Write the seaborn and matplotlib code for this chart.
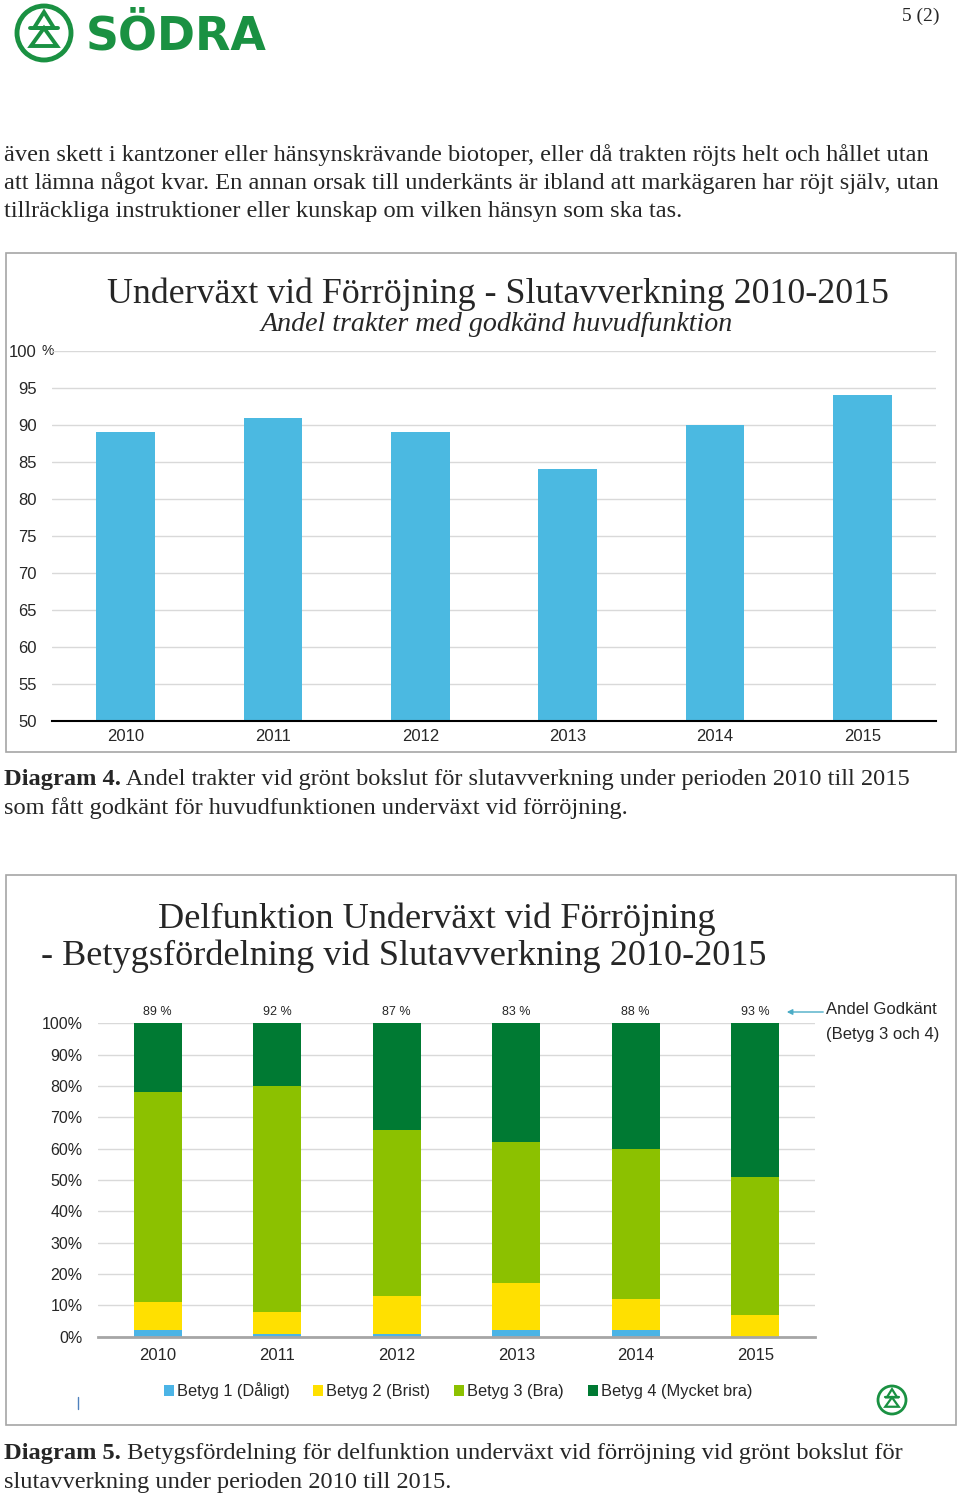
import numpy as np
import seaborn as sns
import matplotlib
matplotlib.use('Agg')
from matplotlib import pyplot as plt
from matplotlib.patches import Rectangle, Circle, Polygon

# data, read from the page
years = ['2010', '2011', '2012', '2013', '2014', '2015']
godkand_andel = [89, 91, 89, 84, 90, 94]          # diagram 4
betyg_1 = [2, 1, 1, 2, 2, 0]                      # diagram 5, Dåligt
betyg_2 = [9, 7, 12, 15, 10, 7]                   # Brist
betyg_3 = [67, 72, 53, 45, 48, 44]                # Bra
betyg_4 = [22, 20, 34, 38, 40, 49]                # Mycket bra
y_ticks_1 = [50, 55, 60, 65, 70, 75, 80, 85, 90, 95, 100]
y_ticks_2 = [0, 10, 20, 30, 40, 50, 60, 70, 80, 90, 100]
legend_labels = ['Betyg 1 (Dåligt)', 'Betyg 2 (Brist)', 'Betyg 3 (Bra)',
                 'Betyg 4 (Mycket bra)']
betyg_colors = ['#4BB4E6', '#FFE000', '#8CC100', '#007A33']

paragraph = [
    'även skett i kantzoner eller hänsynskrävande biotoper, eller då trakten röjts helt och hållet utan',
    'att lämna något kvar. En annan orsak till underkänts är ibland att markägaren har röjt själv, utan',
    'tillräckliga instruktioner eller kunskap om vilken hänsyn som ska tas.',
]

W, H = 960, 1497
GREEN = '#1A9142'
SERIF = ['Liberation Serif', 'DejaVu Serif']
BODY = 17.6


def box(l, t, r, b):
    return [l / W, 1 - b / H, (r - l) / W, (b - t) / H]


def logo(ax, cx, cy, r, lw):
    ax.add_patch(Circle((cx, cy), r, fill=False, ec=GREEN, lw=lw))
    s = r / 27.0
    ax.add_patch(Polygon([(cx, cy - 21 * s), (cx - 10 * s, cy - 5 * s), (cx + 10 * s, cy - 5 * s)],
                         closed=True, fill=False, ec=GREEN, lw=lw * 0.8))
    ax.add_patch(Polygon([(cx, cy - 5 * s), (cx - 13 * s, cy + 13 * s), (cx + 13 * s, cy + 13 * s)],
                         closed=True, fill=False, ec=GREEN, lw=lw * 0.8))
    ax.plot([cx - 14 * s, cx + 14 * s], [cy - 5 * s, cy - 5 * s], color=GREEN, lw=lw * 0.8)


sns.set_theme(style='white')
plt.rcParams['font.family'] = ['Liberation Sans', 'DejaVu Sans']

fig = plt.figure(figsize=(9.6, 14.97), dpi=100)
page = fig.add_axes([0, 0, 1, 1])
page.set_xlim(0, W)
page.set_ylim(H, 0)
page.axis('off')

# header
logo(page, 44, 33, 27, 3.5)
page.text(86, 49, 'SÖDRA', family='DejaVu Sans', weight='bold', fontsize=33,
          color=GREEN, va='baseline')
page.text(940, 21, '5 (2)', family=SERIF, fontsize=14, ha='right', va='baseline')

for i, line in enumerate(paragraph):
    page.text(4, 161 + 28 * i, line, family=SERIF, fontsize=BODY, va='baseline')

# frames around the two charts
page.add_patch(Rectangle((6, 253), 950, 499, fill=False, ec='#A6A6A6', lw=1.2))
page.add_patch(Rectangle((6, 875), 950, 550, fill=False, ec='#A6A6A6', lw=1.2))

# ---- diagram 4
page.text(498, 303, 'Underväxt vid Förröjning - Slutavverkning 2010-2015', family=SERIF,
          fontsize=25.8, ha='center', va='baseline')
page.text(497, 331, 'Andel trakter med godkänd huvudfunktion', family=SERIF,
          style='italic', fontsize=20.2, ha='center', va='baseline')

ax1 = fig.add_axes(box(52, 351, 936, 721))
ax1.set_facecolor('none')
sns.barplot(x=years, y=godkand_andel, color='#4BB9E1', saturation=1, width=0.4,
            linewidth=0, ax=ax1)
ax1.set_ylim(50, 100)
ax1.set_yticks(y_ticks_1)
ax1.set_yticklabels([str(t) for t in y_ticks_1])
ax1.yaxis.grid(True, color='#D9D9D9', lw=1)
ax1.set_axisbelow(True)
for side in ['left', 'right', 'top']:
    ax1.spines[side].set_visible(False)
ax1.spines['bottom'].set_color('black')
ax1.spines['bottom'].set_linewidth(1.5)
ax1.tick_params(axis='y', length=0, pad=11, labelsize=12)
ax1.tick_params(axis='x', length=0, pad=6, labelsize=12)
ax1.set_xlabel('')
ax1.set_ylabel('')
page.text(42, 351, '%', fontsize=10, va='center')

page.text(4, 785, 'Diagram 4.', family=SERIF, weight='bold', fontsize=BODY, va='baseline')
page.annotate(' Andel trakter vid grönt bokslut för slutavverkning under perioden 2010 till 2015',
              xy=(1, 0), xycoords=page.texts[-1], family=SERIF, fontsize=BODY,
              ha='left', va='bottom')
page.text(4, 814, 'som fått godkänt för huvudfunktionen underväxt vid förröjning.',
          family=SERIF, fontsize=BODY, va='baseline')

# ---- diagram 5
page.text(437, 928, 'Delfunktion Underväxt vid Förröjning', family=SERIF, fontsize=26.1,
          ha='center', va='baseline')
page.text(404, 965, '- Betygsfördelning vid Slutavverkning 2010-2015', family=SERIF,
          fontsize=26.1, ha='center', va='baseline')

ax2 = fig.add_axes(box(98, 1023.3, 815, 1336.7))
ax2.set_facecolor('none')
stack = np.cumsum([betyg_1, betyg_2, betyg_3, betyg_4], axis=0)
for level in reversed(range(4)):
    sns.barplot(x=years, y=stack[level], color=betyg_colors[level], saturation=1,
                width=0.4, linewidth=0, label=legend_labels[level], ax=ax2)
if ax2.legend_ is not None:
    ax2.legend_.remove()
ax2.set_ylim(0, 100)
ax2.set_yticks(y_ticks_2)
ax2.set_yticklabels([f'{t}%' for t in y_ticks_2])
ax2.yaxis.grid(True, color='#D9D9D9', lw=1)
ax2.set_axisbelow(True)
for side in ['left', 'right', 'top']:
    ax2.spines[side].set_visible(False)
ax2.spines['bottom'].set_color('#A6A6A6')
ax2.spines['bottom'].set_linewidth(2)
ax2.tick_params(axis='y', length=0, pad=11, labelsize=11.5)
ax2.tick_params(axis='x', length=0, pad=8, labelsize=12)
ax2.set_xlabel('')
ax2.set_ylabel('')

godkant = [b3 + b4 for b3, b4 in zip(betyg_3, betyg_4)]
for i, v in enumerate(godkant):
    ax2.annotate(f'{v} %', xy=(i, 100), xytext=(0, 8), textcoords='offset points',
                 ha='center', va='center', fontsize=9, annotation_clip=False)

handles, labels = ax2.get_legend_handles_labels()
fig.legend(handles[::-1], labels[::-1], loc='center', bbox_to_anchor=(458 / W, 1 - 1391 / H),
           ncol=4, frameon=False, fontsize=11.8, handlelength=0.6, handleheight=0.6,
           handletextpad=0.2, columnspacing=1.45)

page.annotate('', xy=(784, 1012), xytext=(826, 1012),
              arrowprops=dict(arrowstyle='-|>', color='#4BACC6', lw=1, mutation_scale=8))
page.text(826, 1010, 'Andel Godkänt', fontsize=12, va='center')
page.text(826, 1034, '(Betyg 3 och 4)', fontsize=12, va='center')
page.plot([78, 78], [1397, 1409], color='#4F81BD', lw=1)
logo(page, 892, 1400, 14, 2)

page.text(4, 1459, 'Diagram 5.', family=SERIF, weight='bold', fontsize=BODY, va='baseline')
page.annotate(' Betygsfördelning för delfunktion underväxt vid förröjning vid grönt bokslut för',
              xy=(1, 0), xycoords=page.texts[-1], family=SERIF, fontsize=BODY,
              ha='left', va='bottom')
page.text(4, 1488, 'slutavverkning under perioden 2010 till 2015.', family=SERIF,
          fontsize=BODY, va='baseline')

fig.savefig('out.png', dpi=100)
